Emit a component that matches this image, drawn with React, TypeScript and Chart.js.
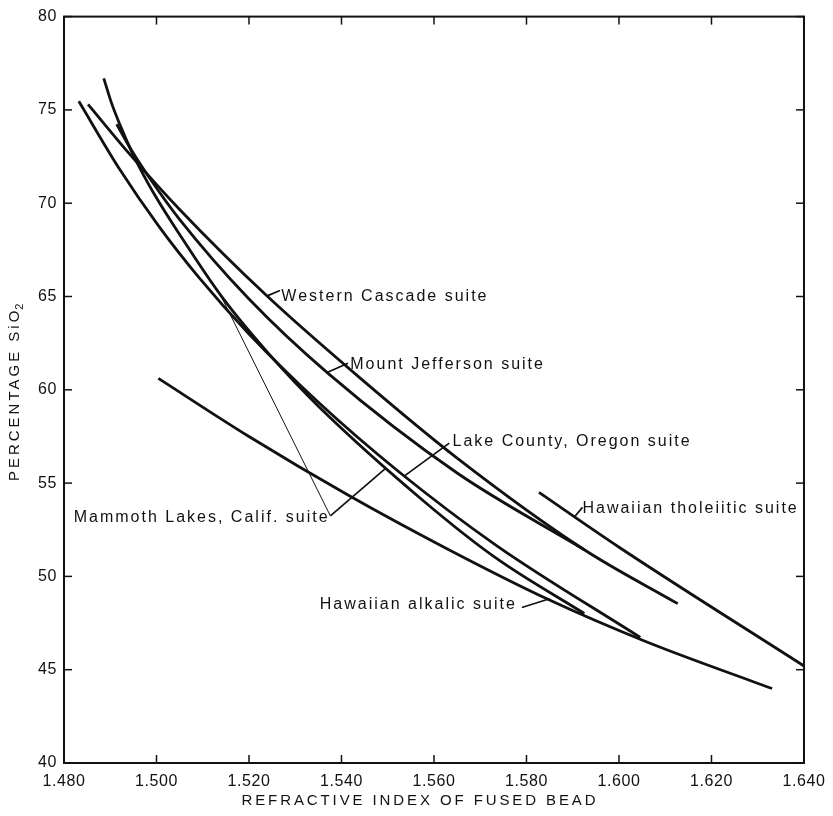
import React, { useEffect, useRef } from 'react';
import { Chart, registerables } from 'chart.js';

Chart.register(...registerables);

// ---- axis ticks ----
const xTickValues = [1.48, 1.5, 1.52, 1.54, 1.56, 1.58, 1.6, 1.62, 1.64];
const yTickValues = [40, 45, 50, 55, 60, 65, 70, 75, 80];

// ---- series (refractive index, % SiO2) ----
const westernCascadeX = [1.4852, 1.4942, 1.5049, 1.5238, 1.5436, 1.565, 1.5925, 1.6127];
const westernCascadeY = [75.3, 72.63, 69.69, 65.05, 60.72, 56.34, 51.43, 48.54];

const mountJeffersonX = [1.4914, 1.4942, 1.4985, 1.5049, 1.5199, 1.5371, 1.565, 1.5925];
const mountJeffersonY = [74.23, 73.0, 71.35, 69.16, 64.89, 60.88, 55.54, 51.43];

const mammothX = [1.4886, 1.4903, 1.4925, 1.4952, 1.4995, 1.5049, 1.5141, 1.5242, 1.535, 1.558, 1.5736, 1.5925];
const mammothY = [76.69, 75.35, 73.97, 72.47, 70.49, 68.36, 64.99, 61.95, 59.12, 53.99, 50.95, 48.01];

const lakeCountyX = [1.4832, 1.492, 1.5006, 1.5092, 1.5199, 1.535, 1.5522, 1.5736, 1.6046];
const lakeCountyY = [75.46, 71.83, 68.73, 66.01, 63.02, 59.33, 55.65, 51.64, 46.73];

const alkalicX = [1.5004, 1.5199, 1.5414, 1.5629, 1.5844, 1.6059, 1.6331];
const alkalicY = [60.61, 57.51, 54.36, 51.47, 48.8, 46.5, 43.99];

const tholeiiticX = [1.5827, 1.6001, 1.64];
const tholeiiticY = [54.5, 51.55, 45.2];

// ---- curve labels (anchor in data units) ----
const labelText = [
  'Western Cascade suite',
  'Mount Jefferson suite',
  'Lake County, Oregon suite',
  'Mammoth Lakes, Calif. suite',
  'Hawaiian tholeiitic suite',
  'Hawaiian alkalic suite',
];
const labelX = [1.527, 1.5419, 1.564, 1.4821, 1.5921, 1.5779];
const labelY = [65.0, 61.35, 57.2, 53.15, 53.65, 48.5];
const labelAlign: CanvasTextAlign[] = ['left', 'left', 'left', 'left', 'left', 'right'];

// ---- leader lines ----
const leaderX0 = [1.5238, 1.5369, 1.5537, 1.5376, 1.5376, 1.5904, 1.579];
const leaderY0 = [65.02, 60.93, 55.4, 53.24, 53.24, 53.2, 48.33];
const leaderX1 = [1.5267, 1.5414, 1.5633, 1.5141, 1.5496, 1.5921, 1.585];
const leaderY1 = [65.32, 61.42, 57.14, 64.95, 55.8, 53.7, 48.8];
const leaderWidth = [1.7, 1.7, 1.7, 1, 1.7, 1.7, 1.7];

const INK = '#111111';
const FONT = '"Liberation Sans", Arial, Helvetica, sans-serif';

const toPts = (xs: number[], ys: number[]) => xs.map((x, i) => ({ x, y: ys[i] }));

const curve = (label: string, xs: number[], ys: number[]) => ({
  label,
  data: toPts(xs, ys),
  showLine: true,
  borderColor: INK,
  borderWidth: 2.8,
  borderCapStyle: 'butt',
  pointRadius: 0,
  fill: false,
  cubicInterpolationMode: 'monotone' as const,
});

const leaders = leaderX0.map((x0, i) => ({
  label: 'leader' + i,
  data: [
    { x: x0, y: leaderY0[i] },
    { x: leaderX1[i], y: leaderY1[i] },
  ],
  showLine: true,
  borderColor: INK,
  borderWidth: leaderWidth[i],
  pointRadius: 0,
  fill: false,
  tension: 0,
}));

const decorPlugin = {
  id: 'decor',
  beforeDraw(chart: any) {
    chart.ctx.letterSpacing = '0.6px';
  },
  afterDraw(chart: any) {
    const { ctx, chartArea: ca, scales } = chart;
    const xs = scales.x;
    const ys = scales.y;
    ctx.save();
    ctx.letterSpacing = '0px';
    // frame
    ctx.strokeStyle = INK;
    ctx.lineWidth = 2;
    ctx.strokeRect(ca.left, ca.top, ca.right - ca.left, ca.bottom - ca.top);
    // inward ticks
    ctx.lineWidth = 1.5;
    const seg = (a: number, b: number, c: number, d: number) => {
      ctx.beginPath();
      ctx.moveTo(a, b);
      ctx.lineTo(c, d);
      ctx.stroke();
    };
    const T = 8;
    xTickValues.forEach((v) => {
      const p = xs.getPixelForValue(v);
      seg(p, ca.bottom, p, ca.bottom - T);
      seg(p, ca.top, p, ca.top + T);
    });
    yTickValues.forEach((v) => {
      const p = ys.getPixelForValue(v);
      seg(ca.left, p, ca.left + T, p);
      seg(ca.right, p, ca.right - T, p);
    });

    // curve labels
    ctx.fillStyle = INK;
    ctx.font = '16px ' + FONT;
    ctx.letterSpacing = '2px';
    ctx.textBaseline = 'middle';
    labelText.forEach((t, i) => {
      ctx.textAlign = labelAlign[i];
      ctx.fillText(t, xs.getPixelForValue(labelX[i]), ys.getPixelForValue(labelY[i]));
    });

    // x axis title
    ctx.font = '15px ' + FONT;
    ctx.letterSpacing = '2.9px';
    ctx.textAlign = 'center';
    ctx.fillText('REFRACTIVE INDEX OF FUSED BEAD', (ca.left + ca.right) / 2 - 14, chart.height - 15);

    // y axis title (rotated) with subscript
    ctx.save();
    ctx.translate(15, (ca.top + ca.bottom) / 2);
    ctx.rotate(-Math.PI / 2);
    ctx.textAlign = 'left';
    ctx.font = '15px ' + FONT;
    ctx.letterSpacing = '3px';
    const main = 'PERCENTAGE SiO';
    const w1 = ctx.measureText(main).width;
    ctx.font = '11px ' + FONT;
    const w2 = ctx.measureText('2').width;
    const start = -(w1 + w2) / 2;
    ctx.font = '15px ' + FONT;
    ctx.fillText(main, start, 0);
    ctx.font = '11px ' + FONT;
    ctx.fillText('2', start + w1 - 2, 5);
    ctx.restore();

    ctx.restore();
    ctx.letterSpacing = '0px';
  },
};

export default function App() {
  const ref = useRef<HTMLCanvasElement>(null);
  useEffect(() => {
    document.body.style.margin = '0';
    const chart = new Chart(ref.current as HTMLCanvasElement, {
      type: 'scatter',
      data: {
        datasets: [
          curve('Western Cascade suite', westernCascadeX, westernCascadeY),
          curve('Mount Jefferson suite', mountJeffersonX, mountJeffersonY),
          curve('Mammoth Lakes, Calif. suite', mammothX, mammothY),
          curve('Lake County, Oregon suite', lakeCountyX, lakeCountyY),
          curve('Hawaiian alkalic suite', alkalicX, alkalicY),
          curve('Hawaiian tholeiitic suite', tholeiiticX, tholeiiticY),
          ...leaders,
        ] as any,
      },
      options: {
        animation: false,
        responsive: false,
        devicePixelRatio: 1,
        layout: { padding: { top: 14, right: 24, bottom: 0, left: 0 } },
        plugins: { legend: { display: false }, tooltip: { enabled: false } },
        scales: {
          x: {
            type: 'linear',
            min: 1.48,
            max: 1.64,
            afterBuildTicks: (s: any) => {
              s.ticks = xTickValues.map((v) => ({ value: v }));
            },
            afterFit: (s: any) => {
              s.height = 53;
            },
            grid: { display: false, drawTicks: false },
            border: { display: false },
            ticks: {
              autoSkip: false,
              maxRotation: 0,
              padding: 9,
              color: INK,
              font: { family: FONT, size: 16 },
              callback: (v: any) => Number(v).toFixed(3),
            },
          },
          y: {
            type: 'linear',
            min: 40,
            max: 80,
            afterBuildTicks: (s: any) => {
              s.ticks = yTickValues.map((v) => ({ value: v }));
            },
            afterFit: (s: any) => {
              s.width = 64;
            },
            grid: { display: false, drawTicks: false },
            border: { display: false },
            ticks: {
              autoSkip: false,
              padding: 7,
              color: INK,
              font: { family: FONT, size: 16 },
              callback: (v: any) => String(v),
            },
          },
        },
      } as any,
      plugins: [decorPlugin],
    });
    return () => chart.destroy();
  }, []);
  return (
    <div style={{ width: 833, height: 816 }}>
      <canvas ref={ref} width={833} height={816} style={{ display: 'block' }} />
    </div>
  );
}
